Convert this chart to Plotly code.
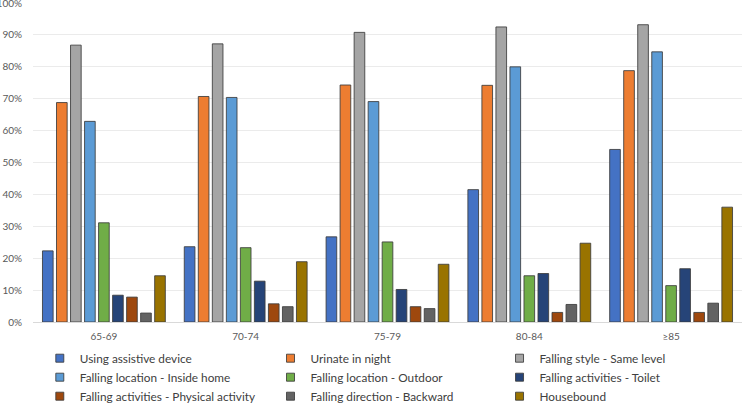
import plotly.graph_objects as go

categories = ["65-69", "70-74", "75-79", "80-84", "≥85"]

series_names = [
    "Using assistive device",
    "Urinate in night",
    "Falling style - Same level",
    "Falling location - Inside home",
    "Falling location - Outdoor",
    "Falling activities - Toilet",
    "Falling activities - Physical activity",
    "Falling direction - Backward",
    "Housebound",
]

assistive_device = [22.3, 23.6, 26.7, 41.5, 54.1]
urinate_night = [68.8, 70.7, 74.3, 74.2, 78.8]
same_level = [86.8, 87.2, 90.8, 92.5, 93.2]
inside_home = [62.9, 70.4, 69.1, 80.0, 84.7]
outdoor = [31.1, 23.3, 25.1, 14.5, 11.4]
toilet = [8.4, 12.8, 10.2, 15.2, 16.7]
physical_activity = [7.8, 5.7, 4.8, 3.0, 3.0]
backward = [2.8, 4.8, 4.2, 5.5, 5.9]
housebound = [14.5, 18.9, 18.1, 24.7, 36.0]

series_values = [assistive_device, urinate_night, same_level, inside_home,
                 outdoor, toilet, physical_activity, backward, housebound]

colors = ["#4472C4", "#ED7D31", "#A5A5A5", "#5B9BD5", "#70AD47",
          "#264478", "#9E480E", "#636363", "#997300"]

legend_ids = ["legend", "legend2", "legend3"]

fig = go.Figure()
for name, vals, col in zip(series_names, series_values, colors):
    fig.add_trace(go.Bar(
        x=categories, y=[v / 100 for v in vals], name=name,
        marker=dict(color=col, line=dict(color="rgba(60,60,60,0.85)", width=1)),
        showlegend=False,
    ))
for i, (name, col) in enumerate(zip(series_names, colors)):
    fig.add_trace(go.Scatter(
        x=[None], y=[None], mode="markers", name=name,
        marker=dict(symbol="square", size=8, color=col,
                    line=dict(color="rgba(60,60,60,0.85)", width=1)),
        legend=legend_ids[i % 3],
    ))

font_family = "Lato, Open Sans, sans-serif"
leg_common = dict(orientation="v", yanchor="top", xanchor="left",
                  font=dict(family=font_family, size=11.8, color="#404040"),
                  bgcolor="rgba(0,0,0,0)", itemclick=False, tracegroupgap=0)

legend_y = -0.068
fig.update_layout(
    width=744, height=404,
    margin=dict(l=33, r=2, t=3, b=82, autoexpand=False),
    paper_bgcolor="white", plot_bgcolor="white",
    barmode="group", bargap=0.11, bargroupgap=0.24,
    showlegend=True,
    legend=dict(x=0.0096, y=legend_y, **leg_common),
    legend2=dict(x=0.335, y=legend_y, **leg_common),
    legend3=dict(x=0.658, y=legend_y, **leg_common),
    xaxis=dict(showgrid=False, showline=True, linecolor="#D9D9D9", linewidth=1,
               ticks="outside", ticklen=5, tickcolor="rgba(0,0,0,0)", automargin=False,
               tickfont=dict(family=font_family, size=10, color="#595959")),
    yaxis=dict(range=[0, 1.0001], dtick=0.1, tickformat=".0%", showgrid=True,
               gridcolor="#EBEBEB", gridwidth=1, zeroline=False, showline=False,
               ticks="outside", ticklen=8, tickcolor="rgba(0,0,0,0)", automargin=False,
               ticklabeloverflow="allow",
               tickfont=dict(family=font_family, size=10, color="#595959")),
)

fig.write_html("out.html", config={"displayModeBar": False},
               post_script="document.body.style.margin='0';")
